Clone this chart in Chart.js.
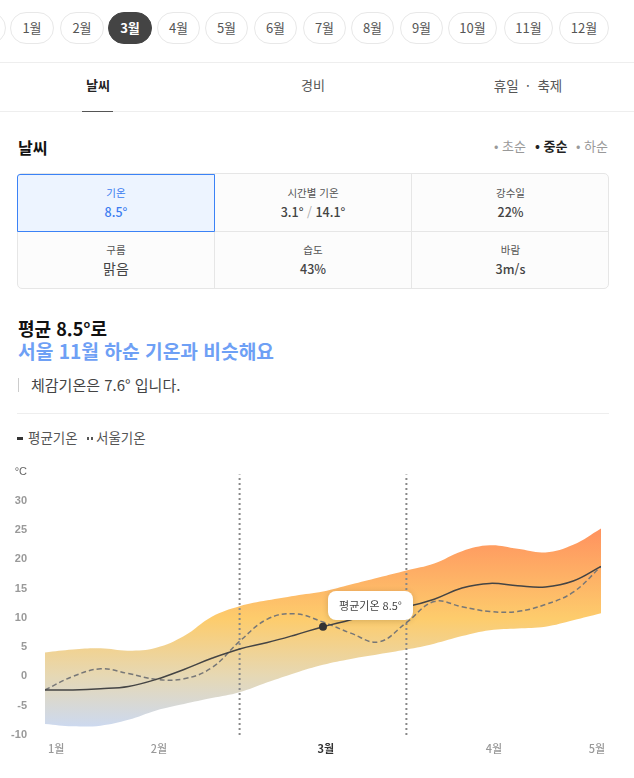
<!DOCTYPE html>
<html lang="ko">
<head>
<meta charset="utf-8">
<title>날씨</title>
<script src="https://cdn.jsdelivr.net/npm/chart.js@4"></script>
<style>
	html, body { margin: 0; padding: 0; background: #fff; }
	body { position: relative; width: 634px; height: 778px; overflow: hidden; font-family: "Noto Sans CJK KR", sans-serif; color: #333; }
	.abs { position: absolute; white-space: nowrap; }
	.pill { position: absolute; top: 12px; height: 30px; line-height: 29px; border: 1px solid #e8e8e8; border-radius: 16px; text-align: center; font-size: 13px; color: #555; box-sizing: content-box; }
	.pill.on { background: #444; border-color: #444; color: #fff; font-weight: 700; }
	.rule { position: absolute; height: 1px; background: #eee; }
	.tab { position: absolute; top: 75px; font-size: 13px; line-height: 20px; color: #555; transform: translateX(-50%); white-space: nowrap; }
	.cell { position: absolute; box-sizing: border-box; text-align: center; }
	.cell .k { position: absolute; left: 0; right: 0; font-size: 10.5px; line-height: 14px; color: #555; }
	.cell .v { position: absolute; left: 0; right: 0; font-size: 12.5px; line-height: 16px; font-weight: 500; color: #444; }
	#chartBox { position: absolute; left: 0; top: 460px; }
	#tip { position: absolute; width: 85px; height: 29px; line-height: 29px; background: #fff; border-radius: 8px; box-shadow: 0 1px 6px rgba(0,0,0,.16); font-size: 11px; text-align: center; color: #444; white-space: nowrap; }
</style>
</head>
<body>
<div id="pills"></div>
<div class="rule" style="left:0;width:634px;top:62px"></div>
<div class="rule" style="left:0;width:634px;top:111px"></div>
<div class="tab" style="left:98px;font-weight:700;color:#222">날씨</div>
<div class="tab" style="left:313px">경비</div>
<div class="tab" style="left:528px;font-size:13.5px">휴일 &nbsp;·&nbsp; 축제</div>
<div class="abs" style="left:82px;top:111px;width:31px;height:1px;background:#555"></div>

<div class="abs" style="left:18px;top:136px;font-size:16px;line-height:22px;font-weight:700;color:#111">날씨</div>
<div class="abs" style="left:494px;top:136px;font-size:13px;line-height:20px;color:#999">• 초순</div>
<div class="abs" style="left:535px;top:136px;font-size:13px;line-height:20px;color:#222;font-weight:700">• 중순</div>
<div class="abs" style="left:576px;top:136px;font-size:13px;line-height:20px;color:#999">• 하순</div>

<div class="abs" style="left:17px;top:173px;width:592px;height:116px;box-sizing:border-box;border:1px solid #e6e6e6;border-radius:5px;background:#fcfcfc"></div>
<div class="abs" style="left:214px;top:174px;width:1px;height:114px;background:#e6e6e6"></div>
<div class="abs" style="left:411px;top:174px;width:1px;height:114px;background:#e6e6e6"></div>
<div class="abs" style="left:18px;top:231px;width:590px;height:1px;background:#e6e6e6"></div>
<div class="cell" style="left:17px;top:174px;width:198px;height:58px;background:#edf4ff;border:1px solid #3b82f6;border-radius:3px 0 0 0">
	<div class="k" style="top:11px;color:#3b7cf0">기온</div><div class="v" style="top:29px;color:#3b7cf0">8.5°</div>
</div>
<div class="cell" style="left:215px;top:174px;width:196px;height:58px">
	<div class="k" style="top:12px">시간별 기온</div><div class="v" style="top:30px">3.1° <span style="color:#aaa;font-weight:400">/</span> 14.1°</div>
</div>
<div class="cell" style="left:412px;top:174px;width:197px;height:58px">
	<div class="k" style="top:12px">강수일</div><div class="v" style="top:30px">22%</div>
</div>
<div class="cell" style="left:17px;top:232px;width:198px;height:57px">
	<div class="k" style="top:11px">구름</div><div class="v" style="top:28px;font-size:14px;font-weight:400">맑음</div>
</div>
<div class="cell" style="left:215px;top:232px;width:196px;height:57px">
	<div class="k" style="top:11px">습도</div><div class="v" style="top:29px">43%</div>
</div>
<div class="cell" style="left:412px;top:232px;width:197px;height:57px">
	<div class="k" style="top:11px">바람</div><div class="v" style="top:29px">3m/s</div>
</div>

<div class="abs" style="left:18px;top:316px;font-size:18px;line-height:24px;font-weight:700;color:#111">평균 8.5°로</div>
<div class="abs" style="left:18px;top:339px;font-size:19.2px;line-height:24px;font-weight:700;color:#6ea0f5">서울 11월 하순 기온과 비슷해요</div>
<div class="abs" style="left:18px;top:378px;width:1px;height:14px;background:#ccc"></div>
<div class="abs" style="left:31px;top:375px;font-size:15px;line-height:20px;color:#444">체감기온은 7.6° 입니다.</div>
<div class="rule" style="left:17px;width:592px;top:413px"></div>

<div class="abs" style="left:17px;top:437px;width:6px;height:3px;background:#333"></div>
<div class="abs" style="left:28px;top:427px;font-size:13.5px;line-height:20px;color:#555">평균기온</div>
<div class="abs" style="left:87px;top:437px;width:2px;height:3px;background:#555"></div>
<div class="abs" style="left:91px;top:437px;width:2px;height:3px;background:#555"></div>
<div class="abs" style="left:96px;top:427px;font-size:13.5px;line-height:20px;color:#555">서울기온</div>

<div id="chartBox">
	<canvas id="tempChart" width="634" height="318" style="width:634px;height:318px"></canvas>
</div>
<div id="tip">평균기온 8.5°</div>

<script>
var months = ["1월", "2월", "3월", "4월", "5월", "6월", "7월", "8월", "9월", "10월", "11월", "12월"];
var pillLeft = [10, 60, 108, 157, 205, 254, 303, 351, 400, 448, 504, 559];
var pillWidth = [44, 44, 44, 43, 43, 43, 43, 43, 43, 49, 49, 50];
var currentMonth = "3월";

// half-ten-day steps from late January to early May
var steps = [0, 1, 2, 3, 4, 5, 6, 7, 8, 9, 10, 11, 12, 13, 14, 15, 16, 17, 18, 19, 20];
var upperTemp = [4.1, 4.6, 4.8, 4.4, 4.9, 6.9, 10.2, 12, 13, 13.8, 14.5, 15.7, 16.9, 18.1, 19.3, 21.4, 22.4, 21.8, 21.2, 22.5, 25.3];
var lowerTemp = [-8.1, -8.5, -8.4, -7.4, -5.8, -4.7, -3.7, -2.7, -1, 0.6, 2, 3, 3.8, 4.6, 5.6, 6.9, 7.9, 8.2, 8.5, 9.6, 10.8];
var avgTemp = [-2.3, -2.3, -2.1, -1.7, -0.5, 1.2, 3.1, 4.7, 5.8, 7.1, 8.5, 9.7, 11.1, 11.9, 13.2, 15.1, 15.9, 15.5, 15.3, 16.3, 18.8];
var seoulTemp = [-2.3, 0, 1.3, 0.5, -0.5, -0.4, 1.5, 6, 9.8, 10.7, 9.3, 7.4, 5.9, 9.2, 12.8, 11.9, 11.1, 11.1, 12.3, 14.4, 18.8];

var yTicks = [-10, -5, 0, 5, 10, 15, 20, 25, 30, 35];
var unitTick = 35;
var xTickSteps = [0.4, 4.1, 10.1, 16.15, 19.85];
var xTickLabels = ["1월", "2월", "3월", "4월", "5월"];
var boldTick = "3월";
var rangeEdges = [7, 13];
var currentStep = 10;

var pillsEl = document.getElementById("pills");
var edge = document.createElement("div");
edge.className = "pill";
edge.style.left = "-30px";
edge.style.width = "34px";
pillsEl.appendChild(edge);
for (var i = 0; i < months.length; i++) {
	var p = document.createElement("div");
	p.className = months[i] == currentMonth ? "pill on" : "pill";
	p.style.left = pillLeft[i] + "px";
	p.style.width = (pillWidth[i] - 2) + "px";
	p.textContent = months[i];
	pillsEl.appendChild(p);
}

function toPoints(values) {
	return values.map(function(v, i) {
		return { x: steps[i], y: v };
	});
}

function bandFill(context) {
	var chart = context.chart;
	// scales have no pixels until the first layout is done
	if (!chart.chartArea) return "#fdcc6c";
	var y = chart.scales.y;
	var g = chart.ctx.createLinearGradient(0, y.getPixelForValue(26), 0, y.getPixelForValue(-9));
	g.addColorStop(0, "#ff8f5e");
	g.addColorStop(0.46, "#fdcc6c");
	g.addColorStop(0.74, "#e6d8b4");
	g.addColorStop(1, "#cbd9f2");
	return g;
}

function isBoldTick(c) {
	return !!c.tick && xTickLabels[xTickSteps.indexOf(c.tick.value)] == boldTick;
}

function isUnitTick(c) {
	return !!c.tick && c.tick.value == unitTick;
}

// lower order draws on top, the band has to stay under the lines
var datasets = [
	{ order: 5, data: toPoints(upperTemp), borderWidth: 0, pointRadius: 0, tension: 0.4, fill: "+1", backgroundColor: bandFill },
	{ order: 6, data: toPoints(lowerTemp), borderWidth: 0, pointRadius: 0, tension: 0.4, fill: false },
	{
		order: 2,
		label: "서울기온",
		data: toPoints(seoulTemp),
		borderColor: "#777",
		borderWidth: 1.5,
		borderDash: [5, 3],
		pointRadius: 0,
		tension: 0.4,
		fill: false
	},
	{
		order: 1,
		label: "평균기온",
		data: toPoints(avgTemp),
		borderColor: "#444",
		borderWidth: 1.5,
		backgroundColor: "#333",
		pointRadius: steps.map(function(s) { return s == currentStep ? 4 : 0; }),
		pointBorderWidth: 0,
		tension: 0.4,
		fill: false
	}
];

rangeEdges.forEach(function(s) {
	datasets.push({
		order: 3,
		data: [{ x: s, y: -10 }, { x: s, y: 34.5 }],
		borderColor: "#888",
		borderWidth: 2,
		borderDash: [2, 3],
		pointRadius: 0,
		tension: 0,
		fill: false
	});
});

var chart = new Chart(document.getElementById("tempChart"), {
	type: "line",
	data: { datasets: datasets },
	options: {
		responsive: false,
		animation: false,
		layout: { padding: { top: 11.6, right: 33, left: 0, bottom: 0 } },
		plugins: { legend: { display: false }, tooltip: { enabled: false } },
		scales: {
			x: {
				type: "linear",
				min: 0,
				max: 20,
				grid: { display: false },
				border: { display: false },
				afterBuildTicks: function(axis) {
					axis.ticks = xTickSteps.map(function(v) { return { value: v }; });
				},
				afterFit: function(axis) { axis.height = 43; },
				ticks: {
					autoSkip: false,
					maxRotation: 0,
					padding: -1,
					callback: function(value) {
						return xTickLabels[xTickSteps.indexOf(value)];
					},
					color: function(c) {
						return isBoldTick(c) ? "#333" : "#999";
					},
					font: function(c) {
						return { family: "'Noto Sans CJK KR'", size: 11, weight: isBoldTick(c) ? "700" : "500" };
					}
				}
			},
			y: {
				min: -10,
				max: 35,
				grid: { display: false },
				border: { display: false },
				afterBuildTicks: function(axis) {
					axis.ticks = yTicks.map(function(v) { return { value: v }; });
				},
				afterFit: function(axis) {
					axis.width = 45;
					// the top tick label must not push the plot area down
					axis.paddingTop = 0;
					axis.paddingBottom = 0;
				},
				ticks: {
					padding: 10,
					callback: function(value) {
						return value == unitTick ? "°C" : value;
					},
					color: function(c) {
						return isUnitTick(c) ? "#666" : "#999";
					},
					font: function(c) {
						return { family: "'Liberation Sans'", size: 11, weight: isUnitTick(c) ? "400" : "700" };
					}
				}
			}
		}
	}
});

var tip = document.getElementById("tip");
tip.style.left = (chart.scales.x.getPixelForValue(currentStep) + 5) + "px";
tip.style.top = (460 + chart.scales.y.getPixelForValue(avgTemp[currentStep]) - 36) + "px";
</script>
</body>
</html>
